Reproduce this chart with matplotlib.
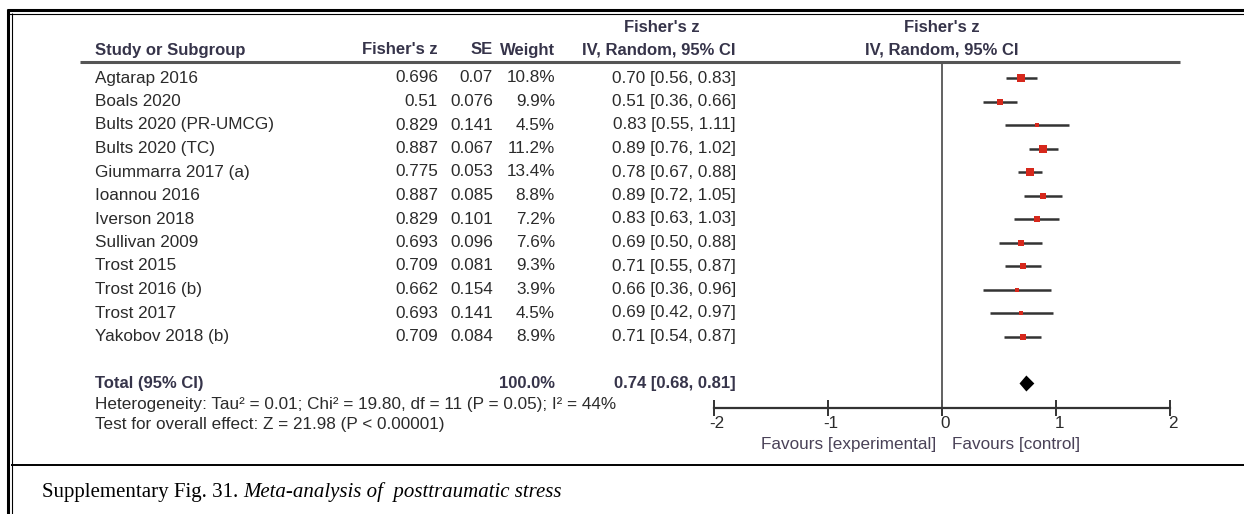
import numpy as np
import matplotlib
matplotlib.use("Agg")
import matplotlib.pyplot as plt
import matplotlib.transforms as mtransforms

# data
studies = ["Agtarap 2016", "Boals 2020", "Bults 2020 (PR-UMCG)", "Bults 2020 (TC)",
           "Giummarra 2017 (a)", "Ioannou 2016", "Iverson 2018", "Sullivan 2009",
           "Trost 2015", "Trost 2016 (b)", "Trost 2017", "Yakobov 2018 (b)"]
fisher_z = [0.696, 0.51, 0.829, 0.887, 0.775, 0.887, 0.829, 0.693, 0.709, 0.662, 0.693, 0.709]
se = [0.07, 0.076, 0.141, 0.067, 0.053, 0.085, 0.101, 0.096, 0.081, 0.154, 0.141, 0.084]
weights = [10.8, 9.9, 4.5, 11.2, 13.4, 8.8, 7.2, 7.6, 9.3, 3.9, 4.5, 8.9]
est = [0.70, 0.51, 0.83, 0.89, 0.78, 0.89, 0.83, 0.69, 0.71, 0.66, 0.69, 0.71]
ci_lo = [0.56, 0.36, 0.55, 0.76, 0.67, 0.72, 0.63, 0.50, 0.55, 0.36, 0.42, 0.54]
ci_hi = [0.83, 0.66, 1.11, 1.02, 0.88, 1.05, 1.03, 0.88, 0.87, 0.96, 0.97, 0.87]
total_est, total_lo, total_hi = 0.74, 0.68, 0.81
total_weight = 100.0
heterogeneity = "Heterogeneity: Tau² = 0.01; Chi² = 19.80, df = 11 (P = 0.05); I² = 44%"
overall = "Test for overall effect: Z = 21.98 (P < 0.00001)"
xticks = [-2, -1, 0, 1, 2]

W, H = 1244, 514
plt.rcParams["font.family"] = ["Liberation Sans", "DejaVu Sans"]
plt.rcParams["axes.unicode_minus"] = False
TXT = "#2b2b2b"
HDR = "#36344a"
FS = 12.3
FSB = 12.0

fig = plt.figure(figsize=(W / 100, H / 100), dpi=100)
base = fig.add_axes([0, 0, 1, 1])
base.set_xlim(0, W)
base.set_ylim(H, 0)
base.axis("off")

# frame: double line top and left, single separator above caption
base.plot([7, W], [10, 10], color="black", lw=2.2, solid_capstyle="butt")
base.plot([7, W], [13.5, 13.5], color="black", lw=0.8, solid_capstyle="butt")
base.plot([8, 8], [9, H], color="black", lw=2.2, solid_capstyle="butt")
base.plot([11.5, 11.5], [13, H], color="black", lw=0.8, solid_capstyle="butt")
base.plot([11, W], [465, 465], color="black", lw=1.4, solid_capstyle="butt")

# column layout
x_name, x_z, x_se, x_w, x_ci = 95, 438, 493, 555, 736
y_top, y_head, y_rule = 28, 50, 62
row0, dy = 78, 23.5
rows = row0 + dy * np.arange(len(studies))
y_total = rows[-1] + 2 * dy
y_het, y_test = 404, 424

base.plot([80, 1180], [y_rule, y_rule], color="#555555", lw=2.2, solid_capstyle="butt")

hb = dict(fontsize=FSB, fontweight="bold", color=HDR, va="center")
base.text(662, y_top, "Fisher's z", ha="center", **hb)
base.text(942, y_top, "Fisher's z", ha="center", **hb)
base.text(x_name, y_head, "Study or Subgroup", ha="left", **hb)
base.text(x_z, y_head, "Fisher's z", ha="right", **hb)
base.text(x_se, y_head, "SE", ha="right", **hb)
base.text(x_w, y_head, "Weight", ha="right", **hb)
base.text(x_ci, y_head, "IV, Random, 95% CI", ha="right", **hb)
base.text(942, y_head, "IV, Random, 95% CI", ha="center", **hb)

tb = dict(fontsize=FS, color=TXT, va="center")
for i, y in enumerate(rows):
    base.text(x_name, y, studies[i], ha="left", **tb)
    base.text(x_z, y, f"{fisher_z[i]:g}", ha="right", **tb)
    base.text(x_se, y, f"{se[i]:g}", ha="right", **tb)
    base.text(x_w, y, f"{weights[i]:.1f}%", ha="right", **tb)
    base.text(x_ci, y, f"{est[i]:.2f} [{ci_lo[i]:.2f}, {ci_hi[i]:.2f}]", ha="right", **tb)

base.text(x_name, y_total, "Total (95% CI)", ha="left", **hb)
base.text(x_w, y_total, f"{total_weight:.1f}%", ha="right", **hb)
base.text(x_ci, y_total, f"{total_est:.2f} [{total_lo:.2f}, {total_hi:.2f}]", ha="right", **hb)
base.text(x_name, y_het, heterogeneity, ha="left", **tb)
base.text(x_name, y_test, overall, ha="left", **tb)

base.text(936, 444, "Favours [experimental]", ha="right", va="center", fontsize=FS, color="#4a4258")
base.text(952, 444, "Favours [control]", ha="left", va="center", fontsize=FS, color="#4a4258")

# forest panel: x in Fisher's z units, y shares pixel rows with the table
px_left, px_right, px_axis = 714, 1170, 408
ax = fig.add_axes([px_left / W, (H - px_axis) / H, (px_right - px_left) / W, (px_axis - y_rule) / H])
ax.set_facecolor("none")
ax.set_xlim(-2, 2)
ax.set_ylim(px_axis, y_rule)
for s in ["top", "left", "right"]:
    ax.spines[s].set_visible(False)
ax.spines["bottom"].set_linewidth(1.6)
ax.spines["bottom"].set_color("#333333")
ax.set_yticks([])
ax.set_xticks(xticks)
ax.set_xticklabels([str(t) for t in xticks], fontsize=FS, color=TXT)
ax.tick_params(axis="x", direction="inout", length=11, width=1.4, color="#333333", pad=0)
shift = mtransforms.ScaledTranslation(3 / 100, 0, fig.dpi_scale_trans)
for lab in ax.get_xticklabels():
    lab.set_transform(lab.get_transform() + shift)
ax.axvline(0, color="#555555", lw=1.3)

ax.hlines(rows, ci_lo, ci_hi, color="#333333", lw=1.8)
for i, y in enumerate(rows):
    side_px = 2.2 * np.sqrt(weights[i])
    ax.plot(fisher_z[i], y, "s", color="#d6281c", ms=side_px * 0.72, mew=0)

half = 8
ax.fill([total_lo, total_est, total_hi, total_est],
        [y_total, y_total - half, y_total, y_total + half], color="black", lw=0)

# caption with regular and italic parts
cap = base.text(42, 492, "Supplementary Fig. 31.", ha="left", va="center",
                fontsize=15, family="Liberation Serif", color="black")
fig.canvas.draw()
bb = cap.get_window_extent().transformed(base.transData.inverted())
base.text(bb.x1 + 5, 492, "Meta-analysis of  posttraumatic stress", ha="left", va="center",
          fontsize=15, family="Liberation Serif", style="italic", color="black")

fig.savefig("out.png", dpi=100)
